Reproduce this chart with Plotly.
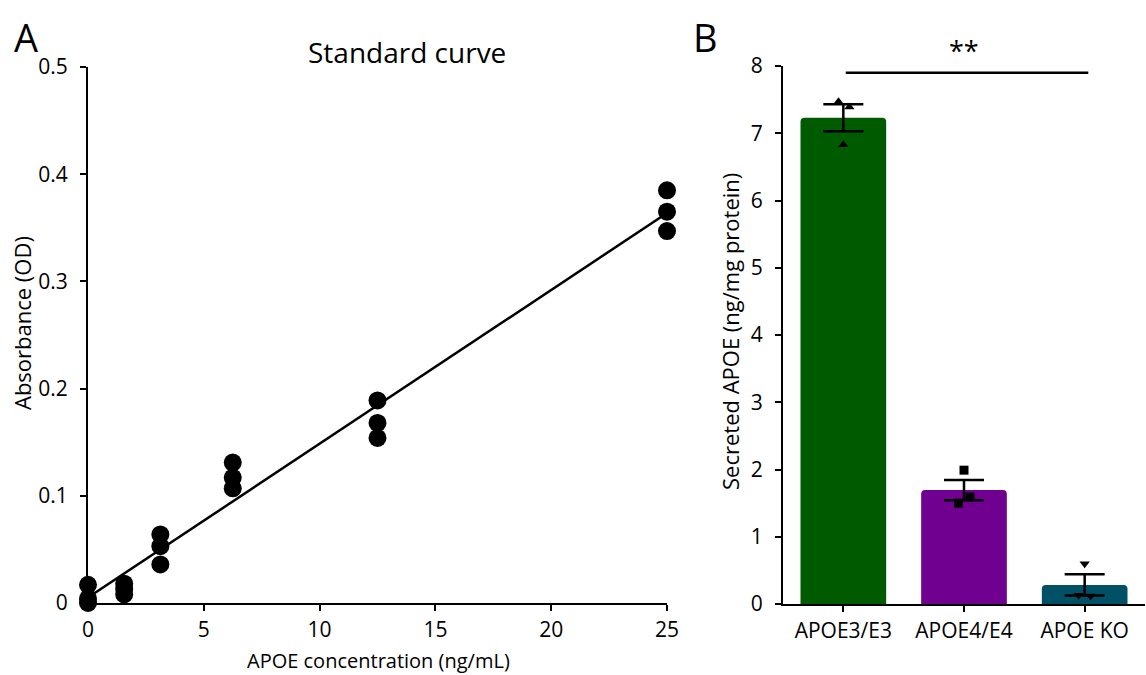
import numpy as np
import plotly.graph_objects as go

# ---- Panel A: APOE ELISA standard curve (triplicates) ----
conc = [0, 1.5625, 3.125, 6.25, 12.5, 25]
od_rep1 = [0.000, 0.008, 0.036, 0.107, 0.154, 0.347]
od_rep2 = [0.004, 0.013, 0.053, 0.117, 0.168, 0.365]
od_rep3 = [0.017, 0.018, 0.064, 0.131, 0.189, 0.385]

# ---- Panel B: secreted APOE per genotype ----
genotypes = ["APOE3/E3", "APOE4/E4", "APOE KO"]
apoe33_vals = [7.47, 7.39, 6.83]
apoe44_vals = [1.99, 1.59, 1.50]
apoeko_vals = [0.60, 0.13, 0.12]
jitter = [[-0.04, 0.05, 0.0], [0.0, 0.05, -0.045], [0.0, -0.05, 0.05]]
bar_colors = ["#005a00", "#700090", "#005066"]
point_symbols = ["triangle-up", "square", "triangle-down"]

W, H = 1146, 675
FONT = "Open Sans"


def px_x(p):
    return p / W


def px_y(p):
    return 1 - p / H


fig = go.Figure()

# standard curve points
xs = np.repeat(conc, 3)
ys = np.array([od_rep1, od_rep2, od_rep3]).T.flatten()
fig.add_trace(go.Scatter(
    x=xs, y=ys, mode="markers", cliponaxis=False,
    marker=dict(color="black", size=18, line=dict(width=0)),
    xaxis="x", yaxis="y", showlegend=False))

# linear regression line
slope, intercept = np.polyfit(xs, ys, 1)
xfit = np.array([0, 25])
fig.add_trace(go.Scatter(
    x=xfit, y=slope * xfit + intercept, mode="lines", cliponaxis=False,
    line=dict(color="black", width=2.5), xaxis="x", yaxis="y", showlegend=False))

# bars with mean +/- SEM
groups = [apoe33_vals, apoe44_vals, apoeko_vals]
means = [float(np.mean(g)) for g in groups]
sems = [float(np.std(g, ddof=1) / np.sqrt(len(g))) for g in groups]
pos = list(range(len(genotypes)))
fig.add_trace(go.Bar(
    x=pos, y=means, width=0.71,
    marker=dict(color=bar_colors, line=dict(width=0)),
    xaxis="x2", yaxis="y2", showlegend=False))
fig.add_trace(go.Scatter(
    x=pos, y=means, mode="markers",
    marker=dict(size=1, color="rgba(0,0,0,0)"),
    error_y=dict(type="data", array=sems, visible=True, color="black",
                 thickness=2.5, width=20),
    xaxis="x2", yaxis="y2", showlegend=False))
for i, g in enumerate(groups):
    fig.add_trace(go.Scatter(
        x=[pos[i] + j for j in jitter[i]], y=g, mode="markers",
        cliponaxis=False,
        marker=dict(symbol=point_symbols[i], size=9, color="black",
                    line=dict(width=0)),
        xaxis="x2", yaxis="y2", showlegend=False))

axis_common = dict(showgrid=False, zeroline=False, showline=True,
                   linecolor="black", linewidth=2, ticks="outside",
                   ticklen=6, tickwidth=2, tickcolor="black", automargin=False,
                   tickfont=dict(family=FONT, size=21, color="black"))

fig.update_layout(
    width=W, height=H,
    margin=dict(l=0, r=0, t=0, b=0, autoexpand=False),
    paper_bgcolor="white", plot_bgcolor="white",
    barcornerradius=4,
    xaxis=dict(domain=[px_x(88), px_x(667)], range=[0, 25],
               tickvals=[0, 5, 10, 15, 20, 25], anchor="y",
               ticklabelstandoff=1, **axis_common),
    yaxis=dict(domain=[px_y(603), px_y(67)], range=[0, 0.5],
               tickvals=[0, 0.1, 0.2, 0.3, 0.4, 0.5], anchor="x",
               ticklabelstandoff=8, **axis_common),
    xaxis2=dict(domain=[px_x(783), px_x(1145)], range=[-0.5, 2.5],
                tickvals=pos, ticktext=genotypes, anchor="y2",
                ticklabelstandoff=1, **axis_common),
    yaxis2=dict(domain=[px_y(604), px_y(66)], range=[0, 8],
                tickvals=list(range(9)), anchor="x2",
                ticklabelstandoff=8, **axis_common),
)

# significance bracket
fig.add_shape(type="line", xref="x2", yref="y2", x0=0.02, x1=2.03,
              y0=7.9, y1=7.9, line=dict(color="black", width=2.5))

ann = []
ann.append(dict(text="**", xref="x2", yref="y2", x=1, y=7.9,
                xanchor="center", yanchor="bottom", yshift=2,
                font=dict(family=FONT, size=27, color="black"), showarrow=False))
ann.append(dict(text="Standard curve", xref="paper", yref="paper",
                x=px_x(407), y=px_y(52), xanchor="center", yanchor="middle",
                font=dict(family=FONT, size=28, color="black"), showarrow=False))
ann.append(dict(text="A", xref="paper", yref="paper", x=px_x(26), y=px_y(37),
                xanchor="center", yanchor="middle",
                font=dict(family=FONT, size=38, color="black"), showarrow=False))
ann.append(dict(text="B", xref="paper", yref="paper", x=px_x(705), y=px_y(37),
                xanchor="center", yanchor="middle",
                font=dict(family=FONT, size=38, color="black"), showarrow=False))
ann.append(dict(text="Absorbance (OD)", xref="paper", yref="paper",
                x=px_x(22), y=px_y(323), textangle=-90,
                xanchor="center", yanchor="middle",
                font=dict(family=FONT, size=22, color="black"), showarrow=False))
ann.append(dict(text="APOE concentration (ng/mL)", xref="paper", yref="paper",
                x=px_x(378), y=px_y(660), xanchor="center", yanchor="middle",
                font=dict(family=FONT, size=20, color="black"), showarrow=False))
ann.append(dict(text="Secreted APOE (ng/mg protein)", xref="paper", yref="paper",
                x=px_x(730), y=px_y(332), textangle=-90,
                xanchor="center", yanchor="middle",
                font=dict(family=FONT, size=22, color="black"), showarrow=False))
fig.update_layout(annotations=ann)

fig.write_html("out.html")
